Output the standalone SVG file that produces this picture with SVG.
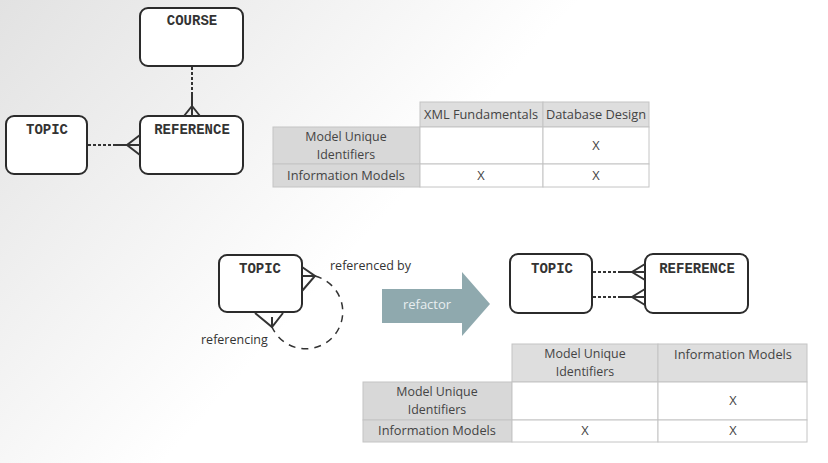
<svg xmlns="http://www.w3.org/2000/svg" width="828" height="463" viewBox="0 0 828 463">
<defs>
<linearGradient id="bg" x1="0" y1="0" x2="400" y2="360" gradientUnits="userSpaceOnUse">
<stop offset="0" stop-color="#e2e2e2"/>
<stop offset="0.8" stop-color="#ffffff"/>
</linearGradient>
<style>
.box{fill:#fff;stroke:#2b2b2b;stroke-width:2}
.lbl{font-family:"Liberation Mono",monospace;font-weight:bold;font-size:14px;fill:#333;text-anchor:middle}
.dash{stroke:#333;stroke-width:2;stroke-dasharray:3 2;fill:none}
.circ{stroke:#333;stroke-width:1.5;stroke-dasharray:7 6;fill:none}
.sol{stroke:#333;stroke-width:2;fill:none}
.hd{fill:#dedede;stroke:#c4c4c4;stroke-width:1}
.rh{fill:#d8d8d8;stroke:#c4c4c4;stroke-width:1}
.cell{fill:#fff;stroke:#c4c4c4;stroke-width:1}
.tt{font-family:"Open Sans",sans-serif;font-size:12.8px;fill:#444;text-anchor:middle}
.t2{font-size:12.4px}
.note{font-family:"Open Sans",sans-serif;font-size:12.5px;fill:#333}
</style>
</defs>
<rect width="828" height="463" fill="url(#bg)"/>

<g id="course1"><rect class="box" x="140" y="8" width="103" height="58" rx="8"/><text class="lbl" x="192" y="25">COURSE</text></g>
<g id="topic1"><rect class="box" x="6" y="116" width="81" height="58" rx="8"/><text class="lbl" x="47" y="134">TOPIC</text></g>
<g id="reference1"><rect class="box" x="140" y="116" width="103" height="58" rx="8"/><text class="lbl" x="192" y="134">REFERENCE</text></g>

<g id="table1">
<rect class="hd" x="420" y="102" width="123" height="25"/>
<rect class="hd" x="543" y="102" width="106" height="25"/>
<rect class="rh" x="273" y="127" width="147" height="37"/>
<rect class="cell" x="420" y="127" width="123" height="37"/>
<rect class="cell" x="543" y="127" width="106" height="37"/>
<rect class="rh" x="273" y="164" width="147" height="23"/>
<rect class="cell" x="420" y="164" width="123" height="23"/>
<rect class="cell" x="543" y="164" width="106" height="23"/>
<text class="tt" x="481" y="119">XML Fundamentals</text>
<text class="tt" x="596" y="119">Database Design</text>
<text class="tt t2" x="346" y="141">Model Unique</text>
<text class="tt t2" x="346" y="158.5">Identifiers</text>
<text class="tt" x="596" y="150">X</text>
<text class="tt" x="346" y="180">Information Models</text>
<text class="tt" x="481" y="180">X</text>
<text class="tt" x="596" y="180">X</text>
</g>

<g id="topic2"><rect class="box" x="219" y="255" width="83" height="57" rx="8"/><text class="lbl" x="260" y="273">TOPIC</text></g>

<g id="refactor">
<path d="M382 289 H462 V272 L490 304 L462 336 V323 H382 Z" fill="#8fa9ae"/>
<text x="427" y="309" font-family="Open Sans,sans-serif" font-size="13px" fill="#e8eef0" text-anchor="middle">refactor</text>
</g>

<g id="topic3"><rect class="box" x="510" y="254" width="82" height="59" rx="8"/><text class="lbl" x="552" y="273">TOPIC</text></g>
<g id="reference3"><rect class="box" x="645" y="254" width="103" height="59" rx="8"/><text class="lbl" x="697" y="273">REFERENCE</text></g>

<g id="table2">
<rect class="hd" x="512" y="344" width="146" height="38"/>
<rect class="hd" x="658" y="344" width="149" height="38"/>
<rect class="rh" x="363" y="382" width="149" height="38"/>
<rect class="cell" x="512" y="382" width="146" height="38"/>
<rect class="cell" x="658" y="382" width="149" height="38"/>
<rect class="rh" x="363" y="420" width="149" height="22"/>
<rect class="cell" x="512" y="420" width="146" height="22"/>
<rect class="cell" x="658" y="420" width="149" height="22"/>
<text class="tt t2" x="585" y="358">Model Unique</text>
<text class="tt t2" x="585" y="375.5">Identifiers</text>
<text class="tt" x="733" y="359">Information Models</text>
<text class="tt t2" x="437" y="396">Model Unique</text>
<text class="tt t2" x="437" y="413.5">Identifiers</text>
<text class="tt" x="733" y="405">X</text>
<text class="tt" x="437" y="435">Information Models</text>
<text class="tt" x="585" y="435">X</text>
<text class="tt" x="733" y="435">X</text>
</g>

<g id="connectors">
<path class="dash" d="M192 67 V93"/>
<path class="sol" d="M192 93 V116 M184 116 L192 106 L200 116"/>
<path class="dash" d="M88 145 H113"/>
<path class="sol" d="M113 145 H140 M140 135 L127 145 L140 155"/>
<path class="sol" d="M302 267 L315 276 L302 291 M303 276 H315"/>
<path class="sol" d="M255 313 L272 327 L283 313 M272 317 V327"/>
<path class="circ" d="M315 276 A37 37 0 1 1 272 327"/>
<path class="dash" d="M593 272 H618"/>
<path class="sol" d="M618 272 H645 M645 264 L632 272 L645 280"/>
<path class="dash" d="M593 297 H618"/>
<path class="sol" d="M618 297 H645 M645 289 L632 297 L645 305"/>
</g>
<text class="note" x="330" y="270">referenced by</text>
<text class="note" x="201" y="344">referencing</text>
</svg>
